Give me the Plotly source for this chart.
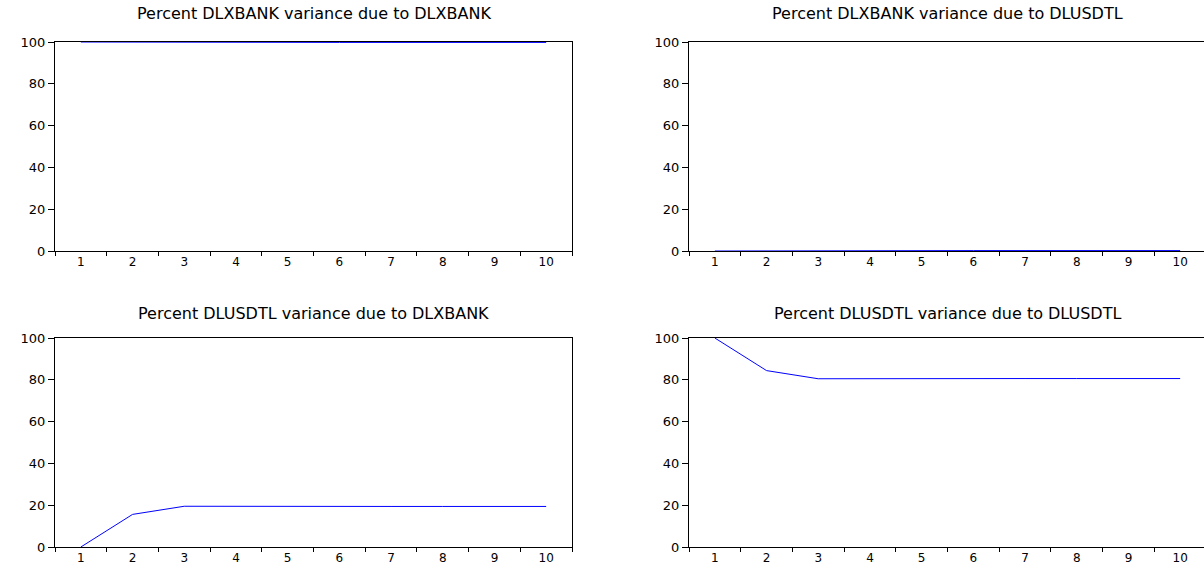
import plotly.graph_objects as go
from plotly.subplots import make_subplots

horizon = list(range(1, 11))
horizon_labels = [str(h) for h in horizon]
y_ticks = [0, 20, 40, 60, 80, 100]

# Variance decomposition shares (percent)
xbank_due_xbank = [100.0, 99.9, 99.8, 99.8, 99.8, 99.8, 99.8, 99.8, 99.8, 99.8]
xbank_due_usdtl = [0.0, 0.1, 0.2, 0.2, 0.2, 0.2, 0.2, 0.2, 0.2, 0.2]
usdtl_due_xbank = [0.0, 15.6, 19.5, 19.4, 19.4, 19.4, 19.4, 19.4, 19.4, 19.4]
usdtl_due_usdtl = [100.0, 84.4, 80.5, 80.6, 80.6, 80.6, 80.6, 80.6, 80.6, 80.6]

titles = [
    "Percent DLXBANK variance due to DLXBANK",
    "Percent DLXBANK variance due to DLUSDTL",
    "Percent DLUSDTL variance due to DLXBANK",
    "Percent DLUSDTL variance due to DLUSDTL",
]
series = [xbank_due_xbank, xbank_due_usdtl, usdtl_due_xbank, usdtl_due_usdtl]

W, H = 1204, 565
FONT = "DejaVu Sans"

fig = make_subplots(rows=2, cols=2)

# panel pixel boxes: (left, right, top, bottom, title centre y)
boxes = [
    (55, 572, 42, 251, 13),
    (689, 1206, 42, 251, 13),
    (55, 572, 338, 547, 313),
    (689, 1206, 338, 547, 313),
]

for i, (vals, title, box) in enumerate(zip(series, titles, boxes)):
    r, c = i // 2 + 1, i % 2 + 1
    fig.add_trace(
        go.Scatter(x=horizon_labels, y=vals, mode="lines",
                   line=dict(color="#0000ff", width=1), showlegend=False),
        row=r, col=c,
    )
    left, right, top, bottom, ty = box
    x_end = min(right, W)
    # category range shrinks a little when the panel runs past the page edge
    span = 10.0 * (x_end - left) / (right - left)
    ax_suffix = "" if i == 0 else str(i + 1)
    fig.layout["xaxis" + ax_suffix].update(
        domain=[left / W, x_end / W],
        type="category",
        range=[-0.5, -0.5 + span],
        tickson="boundaries",
        ticks="outside", ticklen=4, tickcolor="black",
        showline=True, linecolor="black", linewidth=1, mirror=True,
        showgrid=False, zeroline=False, automargin=False,
        tickfont=dict(family=FONT, size=12, color="black"),
        layer="below traces",
    )
    fig.layout["yaxis" + ax_suffix].update(
        domain=[1 - bottom / H, 1 - top / H],
        range=[0, 100],
        tickvals=y_ticks,
        ticks="outside", ticklen=6, tickcolor="black",
        showline=True, linecolor="black", linewidth=1, mirror=True,
        showgrid=False, zeroline=False, automargin=False,
        tickfont=dict(family=FONT, size=13, color="black"),
        layer="below traces",
    )
    fig.add_annotation(
        text=title, xref="paper", yref="paper",
        x=(left + right) / 2 / W,
        y=1 - ty / H, xanchor="center", yanchor="middle",
        showarrow=False, font=dict(family=FONT, size=16, color="black"),
    )

fig.update_layout(
    width=W, height=H,
    margin=dict(l=0, r=0, t=0, b=0),
    paper_bgcolor="white", plot_bgcolor="white",
)

fig.write_html("out.html")
